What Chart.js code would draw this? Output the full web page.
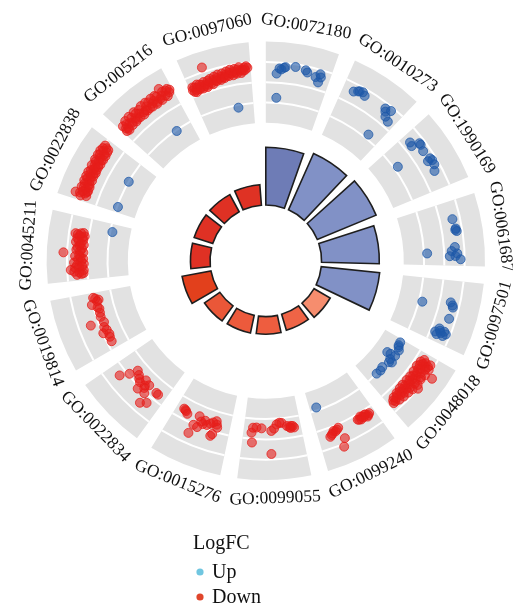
<!DOCTYPE html>
<html>
<head>
<meta charset="utf-8">
<script src="https://cdn.jsdelivr.net/npm/chart.js@4.4.0/dist/chart.umd.min.js"></script>
<style>
  html, body { margin: 0; padding: 0; background: #ffffff; }
  #wrap { width: 513px; height: 609px; position: relative; }
</style>
</head>
<body>
<div id="wrap"><canvas id="goCircle" width="513" height="609"></canvas></div>
<script>
// GO terms, clockwise from 12 o'clock
const terms = [
  'GO:0072180', 'GO:0010273', 'GO:1990169', 'GO:0061687', 'GO:0097501',
  'GO:0048018', 'GO:0099240', 'GO:0099055', 'GO:0015276', 'GO:0022834',
  'GO:0019814', 'GO:0045211', 'GO:0022838', 'GO:005216', 'GO:0097060'
];

// inner bar height per term
const termScore = [5.9, 6.3, 6.5, 5.9, 6.0, 1.9, 1.7, 1.8, 1.85, 1.9, 3.0, 2.0, 2.0, 2.0, 2.1];

// inner bar fill per term (z-score shading)
const barColors = [
  '#6e7cb6', '#8191c6', '#8191c6', '#8191c6', '#8191c6',
  '#f68d6e', '#ef6446', '#ee5d3f', '#ec5a3c', '#ea5738',
  '#e2401c', '#df3124', '#df3124', '#df3124', '#df3224'
];

// genes per term: [position across the sector 0..1, ring level 0..4]
const genesUp = [
  [[.17,2.41],[.21,2.67],[.24,2.63],[.28,2.72],[.30,2.76],[.45,2.83],[.61,2.76],[.64,2.67],[.78,2.55],[.84,2.75],[.84,2.33],[.86,2.6],[.19,1.22]],
  [[.18,2.57],[.24,2.68],[.26,2.72],[.31,2.76],[.36,2.65],[.73,2.72],[.76,2.6],[.82,2.8],[.81,2.41],[.89,2.3],[.78,1.2]],
  [[.14,2.38],[.2,2.33],[.24,2.72],[.27,2.72],[.37,2.64],[.52,2.73],[.56,2.78],[.54,2.57],[.63,2.76],[.72,2.61],[.34,1.18]],
  [[.28,2.62],[.43,2.69],[.47,2.72],[.45,2.66],[.71,2.54],[.77,2.37],[.85,2.27],[.85,2.55],[.9,2.8],[.81,2.64],[.79,1.16]],
  [[.44,1.17],[.34,2.54],[.38,2.66],[.41,2.7],[.59,2.67],[.85,2.24],[.81,2.45],[.8,2.66],[.83,2.78],[.87,2.66],[.84,2.52],[.78,2.38],[.88,2.35]],
  [[.79,0.98],[.7,1.01],[.63,0.96],[.35,0.68],[.34,0.86],[.45,1.17],[.42,1.0],[.32,1.1],[.15,1.0],[.06,0.94],[.2,1.1],[.12,0.95],[.48,1.05]],
  [[.87,0.82]],
  [],
  [],
  [],
  [],
  [[.85,0.89]],
  [[.61,0.99],[.1,0.95]],
  [[.69,0.94]],
  [[.71,0.84]]
];

const genesDown = [
  [],
  [],
  [],
  [],
  [],
  [[.1,2.4],[.13,2.55],[.16,2.46],[.16,2.74],[.18,2.6],[.2,2.35],[.22,2.7],[.25,2.5],[.27,3.23],[.27,2.4],[.3,2.62],[.32,2.45],[.35,2.75],[.37,2.5],[.4,2.39],[.42,2.6],[.45,2.48],[.48,2.7],[.5,2.4],[.51,2.98],[.53,2.55],[.55,2.46],[.58,2.65],[.6,2.4],[.63,2.55],[.66,2.45],[.7,2.6],[.71,2.49],[.73,2.4],[.76,2.55],[.8,2.45],[.84,2.52],[.88,2.6],[.92,2.61],
   [.12,2.8],[.15,2.3],[.19,2.85],[.24,2.25],[.29,2.85],[.34,2.28],[.38,2.8],[.44,2.3],[.47,2.85],[.52,2.28],[.57,2.8],[.62,2.28],[.65,2.75],[.69,2.3],[.74,2.72],[.78,2.35],[.82,2.68],[.86,2.4],[.9,2.5]],
  [[.09,2.25],[.12,2.3],[.14,2.35],[.15,2.2],[.17,2.18],[.2,2.27],[.22,2.2],[.24,2.15],[.25,2.3],[.28,2.26],[.3,2.22],[.61,2.74],[.64,2.14],[.67,2.2],[.67,3.11],[.7,2.25],[.73,2.2],[.76,2.3],[.78,2.35],[.81,2.41]],
  [[.86,1.67],[.84,2.15],[.53,2.69],[.84,1.42],[.78,1.4],[.69,1.43],[.52,1.56],[.47,1.45],[.42,1.25],[.37,1.18],[.33,1.2],[.2,1.45],[.14,1.42],[.17,1.4],[.24,1.38],[.12,1.5],[.18,1.5]],
  [[.87,1.5],[.84,1.53],[.82,1.56],[.78,1.65],[.57,1.5],[.61,2.01],[.63,2.47],[.54,2.04],[.45,1.6],[.4,1.77],[.26,1.44],[.22,1.74],[.29,2.22],[.27,2.11],[.51,1.71],[.35,1.65],[.31,1.55],[.24,1.6],[.47,1.8]],
  [[.82,2.34],[.74,1.91],[.69,1.5],[.57,1.71],[.47,1.53],[.47,2.1],[.37,1.59],[.34,2.04],[.19,1.64],[.15,1.65],[.29,2.53],[.21,2.32],[.52,1.8],[.42,1.75],[.62,1.6],[.4,1.85]],
  [[.9,1.81],[.87,1.66],[.81,2.04],[.72,1.73],[.58,1.79],[.48,1.72],[.5,2.39],[.31,1.96],[.21,1.74],[.13,1.76],[.34,1.74],[.85,1.75],[.75,1.8],[.65,1.76],[.4,1.8],[.26,1.7],[.92,1.9]],
  [[.43,3.18],[.73,2.67],[.75,2.27],[.62,2.46],[.5,2.28],[.36,2.33],[.26,2.17],[.21,2.41],[.17,2.82],[.09,2.52],[.16,2.18],[.7,2.45],[.68,2.3],[.66,2.55],[.58,2.35],[.55,2.4],[.52,2.5],[.46,2.36],[.4,2.4],[.33,2.45],[.3,2.3],[.24,2.5],[.12,2.4],[.1,2.3],[.2,2.6],[.72,2.55],[.64,2.25],
   [.7,2.2],[.6,2.6],[.56,2.2],[.48,2.55],[.44,2.2],[.38,2.6],[.34,2.2],[.28,2.65],[.22,2.25],[.14,2.65],[.11,2.2],[.74,2.4]],
  [[.1,3.17],[.07,2.88],[.29,2.81],[.42,2.84],[.54,2.77],[.71,2.8],[.9,2.93],[.87,2.67],[.15,2.63],[.21,2.87],[.12,2.7],[.18,2.75],[.24,2.7],[.26,2.9],[.32,2.72],[.35,2.88],[.38,2.75],[.45,2.7],[.48,2.9],[.5,2.8],[.58,2.85],[.6,2.7],[.63,2.9],[.66,2.78],[.75,2.9],[.78,2.72],[.82,2.85],[.85,2.95],[.68,2.68],
   [.09,2.6],[.11,2.95],[.14,2.85],[.17,2.6],[.2,2.98],[.23,2.6],[.27,2.65],[.3,2.98],[.34,2.62],[.37,2.98],[.41,2.65],[.44,2.98],[.47,2.62],[.52,2.65],[.55,2.98],[.57,2.65],[.62,2.62],[.65,2.98],[.7,2.62],[.73,2.98],[.77,2.62],[.8,2.99],[.83,2.65],[.88,2.8]],
  [[.07,2.67],[.16,2.72],[.33,2.86],[.48,2.67],[.62,2.73],[.76,2.7],[.89,2.91],[.82,3.15],[.05,2.55],[.1,2.6],[.12,2.8],[.2,2.65],[.24,2.85],[.28,2.7],[.3,2.6],[.37,2.75],[.4,2.9],[.44,2.65],[.52,2.8],[.55,2.62],[.58,2.9],[.66,2.8],[.7,2.65],[.73,2.9],[.8,2.8],[.85,2.7],[.92,2.95],[.95,2.85],
   [.06,2.85],[.09,2.5],[.14,2.95],[.18,2.55],[.22,2.98],[.26,2.55],[.32,2.98],[.35,2.58],[.42,2.55],[.46,2.98],[.5,2.6],[.54,2.98],[.6,2.6],[.64,2.98],[.68,2.58],[.71,2.98],[.78,2.6],[.84,2.95],[.88,2.62],[.93,2.75]],
  [[.29,3.2],[.87,2.67],[.08,2.41],[.04,2.3],[.1,2.25],[.12,2.35],[.15,2.22],[.18,2.3],[.2,2.4],[.23,2.28],[.26,2.35],[.3,2.3],[.33,2.4],[.36,2.32],[.4,2.45],[.43,2.38],[.46,2.5],[.5,2.42],[.53,2.5],[.56,2.45],[.6,2.55],[.63,2.5],[.66,2.6],[.7,2.55],[.73,2.62],[.76,2.58],[.8,2.7],[.83,2.62],[.9,2.75],[.93,2.8],[.95,2.72],[.06,2.2],
   [.05,2.45],[.09,2.15],[.13,2.5],[.17,2.45],[.21,2.2],[.24,2.5],[.28,2.2],[.31,2.5],[.35,2.55],[.38,2.25],[.42,2.6],[.45,2.35],[.48,2.65],[.52,2.35],[.55,2.65],[.58,2.4],[.62,2.7],[.65,2.45],[.68,2.75],[.72,2.45],[.75,2.75],[.78,2.5],[.82,2.8],[.85,2.5],[.88,2.6],[.91,2.62]]
];

// ring scale: level 0 at the inner edge, 4 at the outer edge
const ringMax = 4;
const ringGrid = [1, 2, 3];

// legend entries
const legendTitle = 'LogFC';
const legendItems = ['Up', 'Down'];

// ---- layout (scale units are pixels, centre of the circle at 0,0) ----
const GEO = {
  sector: 360 / terms.length,
  span: 19.5,
  ringIn: 141,
  ringOut: 224,
  barIn: 57,
  barUnit: 10,
  labelR: 243
};
const deg = Math.PI / 180;

function polar(termIndex, pos, level) {
  const theta = (termIndex * GEO.sector + pos * GEO.span) * deg;
  const r = GEO.ringIn + (level / ringMax) * (GEO.ringOut - GEO.ringIn);
  return { x: r * Math.sin(theta), y: r * Math.cos(theta) };
}

function toPoints(groups) {
  const out = [];
  groups.forEach((g, i) => g.forEach(([p, l]) => out.push(polar(i, p, l))));
  return out;
}

function annulus(ctx, cx, cy, rIn, rOut, t0, t1) {
  const a0 = (t0 - 90) * deg, a1 = (t1 - 90) * deg;
  ctx.beginPath();
  ctx.arc(cx, cy, rOut, a0, a1, false);
  ctx.arc(cx, cy, rIn, a1, a0, true);
  ctx.closePath();
}

const circlePlugin = {
  id: 'goCircleRings',
  beforeDatasetsDraw(chart) {
    const ctx = chart.ctx;
    const xs = chart.scales.x, ys = chart.scales.y;
    const cx = xs.getPixelForValue(0), cy = ys.getPixelForValue(0);
    const k = xs.getPixelForValue(1) - cx;
    ctx.save();
    terms.forEach((t, i) => {
      const t0 = i * GEO.sector, t1 = t0 + GEO.span;
      // grey lane for gene points
      annulus(ctx, cx, cy, GEO.ringIn * k, GEO.ringOut * k, t0, t1);
      ctx.fillStyle = '#e2e2e2';
      ctx.fill();
      ctx.strokeStyle = '#ffffff';
      ctx.lineWidth = 2;
      ringGrid.forEach(v => {
        const r = (GEO.ringIn + v / ringMax * (GEO.ringOut - GEO.ringIn)) * k;
        ctx.beginPath();
        ctx.arc(cx, cy, r, (t0 - 90) * deg, (t1 - 90) * deg, false);
        ctx.stroke();
      });
      // inner bar
      const rOut = (GEO.barIn + termScore[i] * GEO.barUnit) * k;
      annulus(ctx, cx, cy, GEO.barIn * k, rOut, t0, t1);
      ctx.fillStyle = barColors[i];
      ctx.fill();
      ctx.strokeStyle = '#1e1e1e';
      ctx.lineWidth = 1.6;
      ctx.lineJoin = 'miter';
      ctx.stroke();
    });
    ctx.restore();
  },
  afterDraw(chart) {
    const ctx = chart.ctx;
    const xs = chart.scales.x, ys = chart.scales.y;
    const cx = xs.getPixelForValue(0), cy = ys.getPixelForValue(0);
    const k = xs.getPixelForValue(1) - cx;
    ctx.save();
    ctx.fillStyle = '#111111';
    ctx.font = '17.5px "Liberation Serif", "DejaVu Serif", serif';
    ctx.textAlign = 'center';
    ctx.textBaseline = 'middle';
    terms.forEach((t, i) => {
      const th = i * GEO.sector + GEO.span / 2;
      const r = GEO.labelR * k;
      const x = cx + r * Math.sin(th * deg), y = cy - r * Math.cos(th * deg);
      const rot = (th > 90 && th < 270) ? th - 180 : th;
      ctx.save();
      ctx.translate(x, y);
      ctx.rotate(rot * deg);
      ctx.fillText(t, 0, 0);
      ctx.restore();
    });
    // legend
    ctx.textAlign = 'left';
    ctx.textBaseline = 'alphabetic';
    ctx.font = '20px "Liberation Serif", "DejaVu Serif", serif';
    ctx.fillText(legendTitle, 193, 549);
    const dotCol = ['#70c6e0', '#e0462c'];
    legendItems.forEach((lab, j) => {
      const yb = 578 + j * 25;
      ctx.fillStyle = dotCol[j];
      ctx.beginPath();
      ctx.arc(200, yb - 6, 3.6, 0, Math.PI * 2);
      ctx.fill();
      ctx.fillStyle = '#111111';
      ctx.fillText(lab, 212, yb);
    });
    ctx.restore();
  }
};

new Chart(document.getElementById('goCircle'), {
  type: 'scatter',
  data: {
    datasets: [
      {
        label: legendItems[0],
        data: toPoints(genesUp),
        backgroundColor: 'rgba(30, 88, 168, 0.6)',
        borderColor: 'rgba(30, 88, 168, 0.75)',
        borderWidth: 1,
        pointRadius: 4.5,
        pointHoverRadius: 4.5
      },
      {
        label: legendItems[1],
        data: toPoints(genesDown),
        backgroundColor: 'rgba(230, 30, 26, 0.6)',
        borderColor: 'rgba(230, 30, 26, 0.75)',
        borderWidth: 1,
        pointRadius: 4.5,
        pointHoverRadius: 4.5
      }
    ]
  },
  options: {
    responsive: false,
    animation: false,
    events: [],
    layout: { padding: 0 },
    plugins: { legend: { display: false }, tooltip: { enabled: false } },
    scales: {
      x: { type: 'linear', min: -266, max: 247, display: false },
      y: { type: 'linear', min: -349, max: 260, display: false }
    }
  },
  plugins: [circlePlugin]
});
</script>
</body>
</html>
